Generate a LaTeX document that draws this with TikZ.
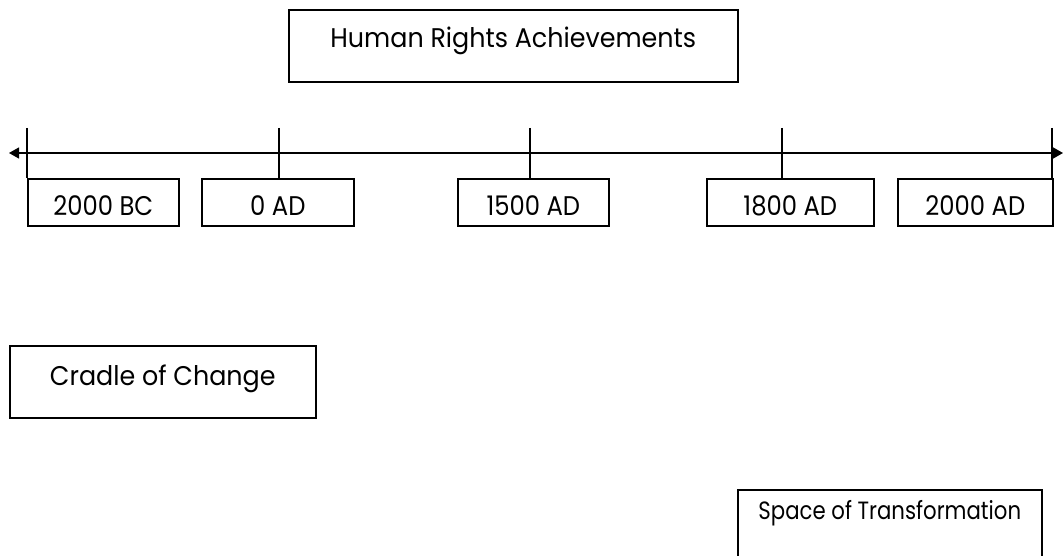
\documentclass[tikz,border=0pt]{standalone}
\usepackage{fontspec}
\setmainfont{Poppins}
\newfontfamily\wideA[FakeStretch=0.94]{Poppins}
\newfontfamily\wideB[FakeStretch=0.90]{Poppins}
\newfontfamily\wideC[FakeStretch=0.85]{Poppins}
\usetikzlibrary{arrows.meta}
\tikzset{
  tbox/.style={draw=black, line width=1.6pt, anchor=north west, inner sep=0pt,
    align=center, font=\wideA\fontsize{27}{30}\selectfont},
  dbox/.style={tbox, font=\wideB\fontsize{27}{30}\selectfont,
    text height=37pt, text depth=10pt},
  axisline/.style={line width=1.3pt, {Triangle[length=10pt,width=11pt]}-{Triangle[length=10pt,width=11pt]}},
  tick/.style={line width=1.3pt}
}
\begin{document}
\begin{tikzpicture}[x=1pt,y=-1pt]
\useasboundingbox (0,0) rectangle (1064,556);
\clip (0,0) rectangle (1064,556);
% title
\node[tbox, minimum width=449pt, text height=38pt, text depth=34pt] (title) at (288,9) {Human Rights Achievements};
% date boxes
\node[dbox, minimum width=151pt] (b1) at (27,178) {2000 BC};
\node[dbox, minimum width=152pt] (b2) at (201,178) {0 AD};
\node[dbox, minimum width=151pt] (b3) at (457,178) {1500 AD};
\node[dbox, minimum width=167pt] (b4) at (706,178) {1800 AD};
\node[dbox, minimum width=155pt] (b5) at (897,178) {2000 AD};
% lower boxes
\node[tbox, minimum width=306pt, text height=40pt, text depth=32pt] (cradle) at (9,345) {Cradle of Change};
\node[tbox, font=\wideC\fontsize{25}{29}\selectfont, minimum width=304pt, text height=30pt, text depth=49pt] (space) at (737,489) {Space of Transformation};
% axis
\coordinate (L) at (9,153);
\coordinate (R) at (1063,153);
\draw[axisline] (L) -- (R);
% ticks
\coordinate (t1) at (27,128);
\coordinate (t2) at (279,128);
\coordinate (t3) at (530,128);
\coordinate (t4) at (782,128);
\coordinate (t5) at (1052,128);
\draw[tick] (t1) -- (t1 |- b1.north);
\draw[tick] (t2) -- (t2 |- b2.north);
\draw[tick] (t3) -- (t3 |- b3.north);
\draw[tick] (t4) -- (t4 |- b4.north);
\draw[tick] (t5) -- (t5 |- b5.north);
\end{tikzpicture}
\end{document}
